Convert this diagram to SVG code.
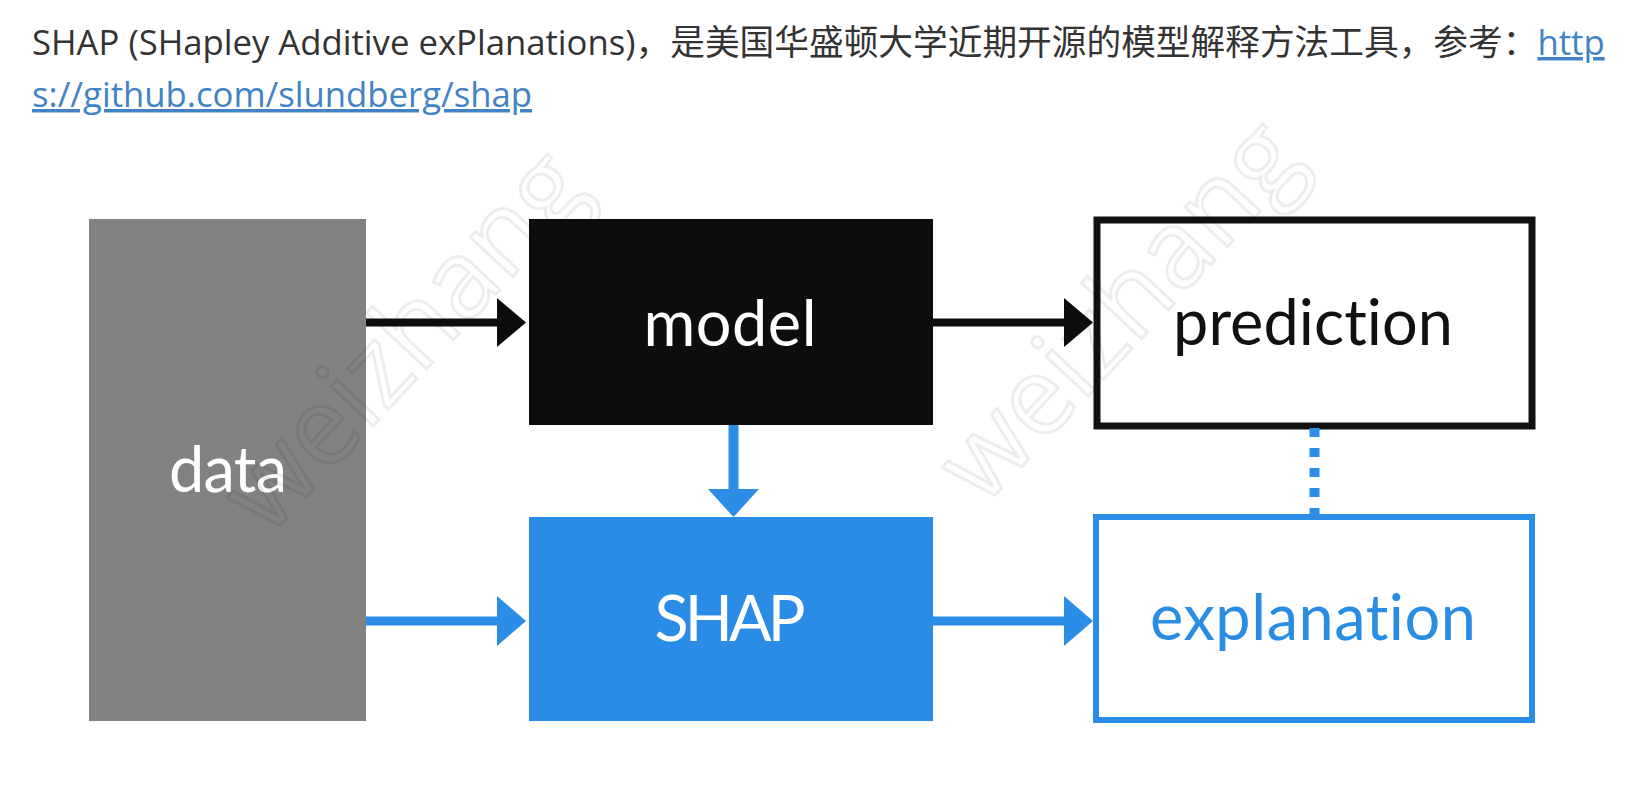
<svg xmlns="http://www.w3.org/2000/svg" width="1636" height="788" viewBox="0 0 1636 788">
<style>
.hdr{font-family:"Open Sans","Noto Sans CJK SC",sans-serif;font-size:34.7px;fill:#333}
.lnk{fill:#4183c4;text-decoration:underline}
.lbl{font-family:Lato,"Open Sans",sans-serif;font-size:63px;text-anchor:middle;font-variant-ligatures:none}
.wm{font-family:"Open Sans",sans-serif;font-size:108px;fill:none;stroke:#000;stroke-opacity:0.07;stroke-width:3}
.blk{stroke:#0d0d0d;stroke-width:8}
.blu{stroke:#2b8de5;stroke-width:9}
</style>
<rect width="1636" height="788" fill="#fff"/>
<g id="header">
<text class="hdr" x="32" y="55">SHAP (SHapley Additive exPlanations)，是美国华盛顿大学近期开源的模型解释方法工具，参考：<tspan class="lnk">http</tspan></text>
<text class="hdr lnk" x="32" y="107">s://github.com/slundberg/shap</text>
</g>
<g id="data">
<rect x="89" y="219" width="277" height="502" fill="#828282"/>
<text class="lbl" x="228" y="492" fill="#fff" textLength="118">data</text>
</g>
<g id="model">
<rect x="529" y="219" width="404" height="206" fill="#0d0d0d"/>
<text class="lbl" x="730" y="346" fill="#fff" textLength="173">model</text>
</g>
<g id="shap">
<rect x="529" y="517" width="404" height="204" fill="#2a8ce4"/>
<text class="lbl" x="730" y="641" fill="#fff" textLength="151">SHAP</text>
</g>
<g id="prediction">
<rect x="1097" y="220" width="435" height="206" fill="#fff" stroke="#111" stroke-width="7"/>
<text class="lbl" x="1313" y="345" fill="#111" textLength="280">prediction</text>
</g>
<g id="explanation">
<rect x="1096" y="517" width="436" height="203" fill="#fff" stroke="#2b8de5" stroke-width="6"/>
<text class="lbl" x="1313" y="640" fill="#2a8de4" textLength="326">explanation</text>
</g>
<g id="connectors">
<line class="blk" x1="366" y1="322.5" x2="498" y2="322.5"/>
<polygon points="497,298 526,322.5 497,347" fill="#0d0d0d"/>
<line class="blu" x1="366" y1="621" x2="498" y2="621"/>
<polygon points="497,596 526,621 497,646" fill="#2b8de5"/>
<line class="blk" x1="933" y1="322.5" x2="1065" y2="322.5"/>
<polygon points="1064,298 1093,322.5 1064,347" fill="#0d0d0d"/>
<line class="blu" x1="933" y1="621" x2="1065" y2="621"/>
<polygon points="1064,596 1093,621 1064,646" fill="#2b8de5"/>
<line x1="733.5" y1="425" x2="733.5" y2="490" stroke="#2b8de5" stroke-width="10"/>
<polygon points="708,489 759,489 733.5,517" fill="#2b8de5"/>
<line x1="1314.5" y1="428" x2="1314.5" y2="514" stroke="#2b8de5" stroke-width="10" stroke-dasharray="9 11"/>
</g>
<g id="watermark">
<text class="wm" transform="translate(430,365) rotate(-47)" text-anchor="middle">weizhang</text>
<text class="wm" transform="translate(1145,335) rotate(-47)" text-anchor="middle">weizhang</text>
</g>
</svg>
